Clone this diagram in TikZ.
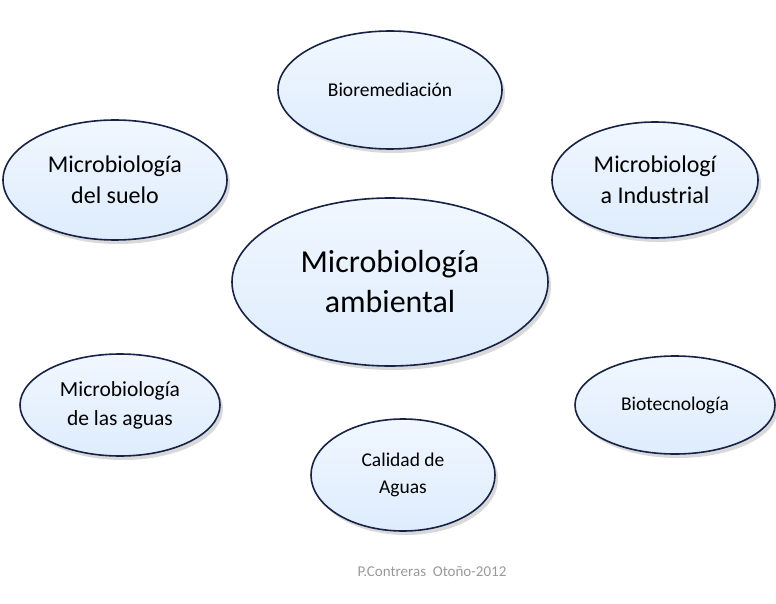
\documentclass[tikz,border=0pt]{standalone}
\usepackage{fontspec}
\setmainfont{Carlito}
\usetikzlibrary{shapes.geometric,shadows}
\definecolor{bfill}{RGB}{222,236,252}
\definecolor{btop}{RGB}{240,247,255}
\definecolor{bline}{RGB}{22,34,70}
\begin{document}
\begin{tikzpicture}[x=1pt,y=-1pt,
 bub/.style={ellipse,draw=bline,line width=1.6pt,top color=btop,bottom color=bfill,
   drop shadow={shadow xshift=3pt,shadow yshift=-4pt,opacity=.3},
   inner sep=0pt,align=center,text=black}]
\useasboundingbox (0,0) rectangle (776,604);
\node[bub,minimum width=224,minimum height=118,font=\fontsize{19.5}{23}\selectfont] (bio) at (390,90) {Bioremediación};
\node[bub,minimum width=224,minimum height=120,font=\fontsize{24}{31}\selectfont] (suelo) at (115,180) {Microbiología\\del suelo};
\node[bub,minimum width=206,minimum height=116,font=\fontsize{24}{31}\selectfont] (ind) at (655,180) {Microbiologí\\a Industrial};
\node[bub,minimum width=316,minimum height=168,font=\fontsize{32}{40}\selectfont] (cen) at (390,282) {Microbiología\\ambiental};
\node[bub,minimum width=200,minimum height=102,font=\fontsize{21.5}{29}\selectfont] (aguas) at (120,405) {Microbiología\\de las aguas};
\node[bub,minimum width=200,minimum height=98,font=\fontsize{19.5}{23}\selectfont] (biot) at (675,405) {Biotecnología};
\node[bub,minimum width=184,minimum height=112,font=\fontsize{19.5}{27}\selectfont] (cal) at (403,475) {Calidad de\\Aguas};
\node[text=black!40,font=\fontsize{15}{17}\selectfont] (foot) at (432,572) {P.Contreras\ \ Otoño-2012};
\end{tikzpicture}
\end{document}
